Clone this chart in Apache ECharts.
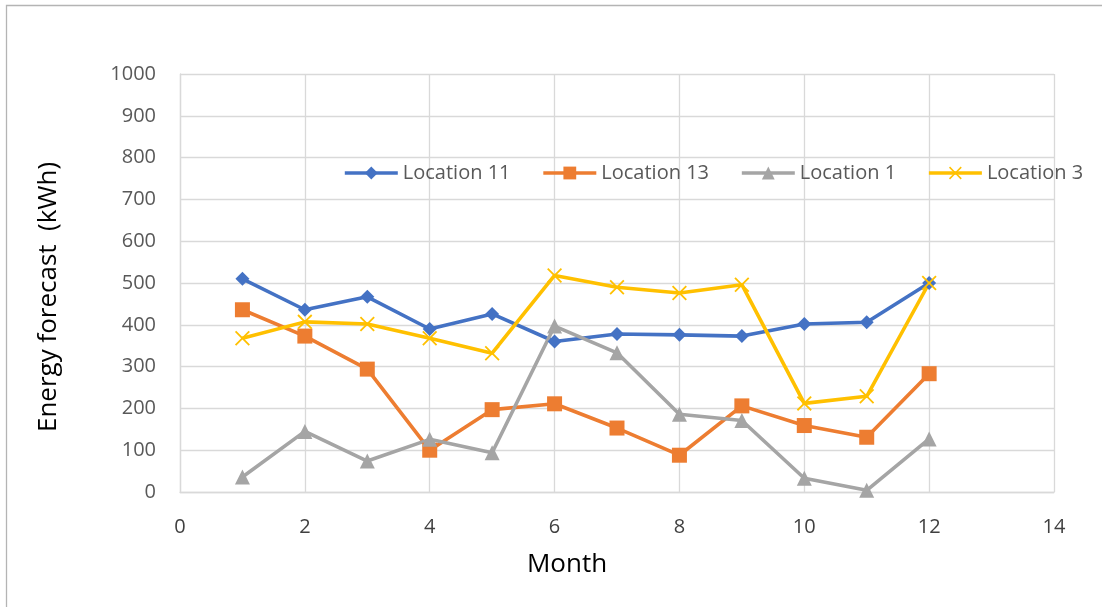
<!DOCTYPE html>
<html>
<head>
<meta charset="utf-8">
<script src="https://cdn.jsdelivr.net/npm/echarts@6/dist/echarts.min.js"></script>
<style>
  html, body { margin: 0; padding: 0; background: #fff; }
  #chart { width: 1102px; height: 607px; }
</style>
</head>
<body>
<div id="chart"></div>
<script>
// Monthly energy forecasts per location (kWh)
const months = [1, 2, 3, 4, 5, 6, 7, 8, 9, 10, 11, 12];
const location11 = [510, 436, 467, 390, 426, 360, 378, 376, 373, 402, 406, 500];
const location13 = [436, 373, 294, 100, 197, 211, 153, 88, 206, 159, 131, 283];
const location1  = [36, 145, 74, 126, 94, 397, 333, 186, 171, 33, 4, 127];
const location3  = [368, 407, 402, 368, 332, 518, 490, 476, 496, 212, 229, 500];

const seriesNames = ['Location 11', 'Location 13', 'Location 1', 'Location 3'];
const seriesColors = ['#4472C4', '#ED7D31', '#A5A5A5', '#FFC000'];
const crossSymbol = 'path://M0,1.2L1.2,0L7,5.8L12.8,0L14,1.2L8.2,7L14,12.8L12.8,14L7,8.2L1.2,14L0,12.8L5.8,7Z';

function pairs(values) {
  return months.map((m, i) => [m, values[i]]);
}

function lineSeries(idx, values, symbol, size) {
  return {
    name: seriesNames[idx],
    type: 'line',
    data: pairs(values),
    symbol: symbol,
    symbolSize: size,
    showAllSymbol: true,
    lineStyle: { color: seriesColors[idx], width: 3.6 },
    itemStyle: { color: seriesColors[idx], borderWidth: 0 },
    emphasis: { disabled: true },
    animation: false
  };
}

const chart = echarts.init(document.getElementById('chart'), null, { renderer: 'canvas' });
const gridColor = '#d9d9d9';

chart.setOption({
  backgroundColor: '#ffffff',
  textStyle: { fontFamily: 'Open Sans' },
  graphic: [{
    type: 'rect',
    shape: { x: 6.5, y: 5.5, width: 1200, height: 700 },
    style: { fill: 'none', stroke: '#b4b4b4', lineWidth: 1.3 },
    silent: true
  }],
  grid: { left: 180, right: 48, top: 74, bottom: 115 },
  legend: {
    left: 343,
    top: 163,
    padding: 0,
    itemWidth: 53,
    itemHeight: 16,
    itemGap: 31,
    lineStyle: { width: 3.6 },
    textStyle: { fontSize: 20, color: '#595959', fontFamily: 'Open Sans' },
    data: seriesNames
  },
  xAxis: {
    type: 'value',
    min: 0,
    max: 14,
    interval: 2,
    name: 'Month',
    nameLocation: 'middle',
    nameGap: 60,
    nameTextStyle: { fontSize: 26, color: '#000', padding: [0, 100, 0, 0] },
    axisLine: { show: true, lineStyle: { color: gridColor, width: 1.3 } },
    axisTick: { show: false },
    axisLabel: { fontSize: 20, color: '#404040', margin: 25 },
    splitLine: { show: true, lineStyle: { color: gridColor, width: 1.3 } }
  },
  yAxis: {
    type: 'value',
    min: 0,
    max: 1000,
    interval: 100,
    name: 'Energy forecast  (kWh)',
    nameLocation: 'middle',
    nameGap: 118,
    nameTextStyle: { fontSize: 26, color: '#000', padding: [0, 28, 0, 0] },
    axisLine: { show: true, lineStyle: { color: gridColor, width: 1.3 } },
    axisTick: { show: false },
    axisLabel: { fontSize: 20, color: '#595959', margin: 24, formatter: v => String(v) },
    splitLine: { show: true, lineStyle: { color: gridColor, width: 1.3 } }
  },
  series: [
    lineSeries(0, location11, 'diamond', 14),
    lineSeries(1, location13, 'rect', 15),
    lineSeries(2, location1, 'triangle', 15),
    lineSeries(3, location3, crossSymbol, 15)
  ]
});
</script>
</body>
</html>
